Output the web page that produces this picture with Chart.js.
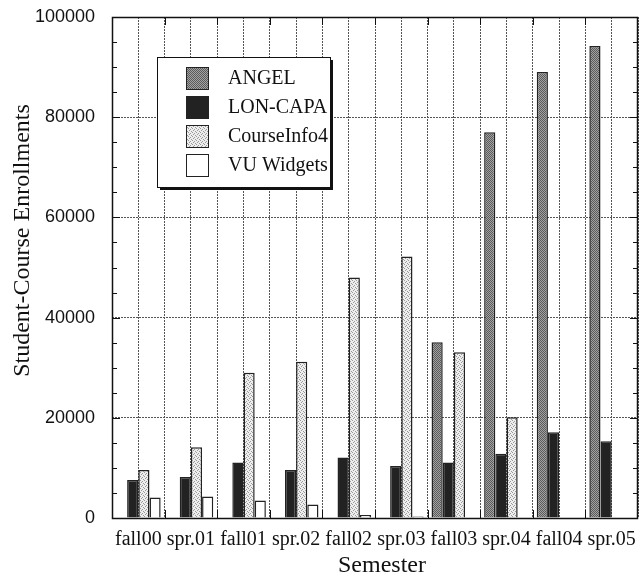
<!DOCTYPE html>
<html>
<head>
<meta charset="utf-8">
<script src="https://cdn.jsdelivr.net/npm/chart.js@4.4.0/dist/chart.umd.min.js"></script>
<style>
  html, body { margin: 0; padding: 0; background: #fff; }
</style>
</head>
<body>
<canvas id="chart" width="639" height="575"></canvas>
<script>
// values, one entry per semester (null = no bar)
const semesters = ['fall00', 'spr.01', 'fall01', 'spr.02', 'fall02', 'spr.03', 'fall03', 'spr.04', 'fall04', 'spr.05'];
const angel = [null, null, null, null, null, null, 35100, 77000, 89000, 94200];
const lonCapa = [7600, 8200, 11100, 9600, 12100, 10400, 11100, 12800, 17100, 15300];
const courseInfo4 = [9600, 14100, 29000, 31200, 48000, 52200, 33100, 20100, null, null];
const vuWidgets = [4100, 4300, 3500, 2700, 600, 300, null, null, null, null];
const yLabels = [0, 20000, 40000, 60000, 80000, 100000];
const xTitle = 'Semester';
const yTitle = 'Student-Course Enrollments';

const SERIF = "'Liberation Serif', 'Times New Roman', serif";
const SANS = "'Liberation Sans', Arial, sans-serif";

// small stipple patterns like the printed original
function stipple(base, dot, cells) {
  const c = document.createElement('canvas');
  c.width = 4; c.height = 4;
  const g = c.getContext('2d');
  g.fillStyle = base;
  g.fillRect(0, 0, 4, 4);
  g.fillStyle = dot;
  cells.forEach(([x, y]) => g.fillRect(x, y, 1, 1));
  return g.createPattern(c, 'repeat');
}

const angelFill = stipple('#a2a2a2', '#5a5a5a', [[0, 0], [2, 0], [1, 1], [3, 1], [0, 2], [2, 2], [1, 3], [3, 3]]);
const courseFill = stipple('#eeeeee', '#9a9a9a', [[0, 0], [2, 1], [1, 2], [3, 3]]);

const frameAndTicks = {
  id: 'frameAndTicks',
  afterDatasetsDraw(chart) {
    const { ctx, chartArea: a } = chart;
    const y = chart.scales.y;
    const x = chart.scales.x;
    ctx.save();
    ctx.strokeStyle = '#111';
    ctx.lineWidth = 1;
    ctx.beginPath();
    for (let v = 0; v <= 100000; v += 5000) {
      const py = Math.round(y.getPixelForValue(v)) + 0.5;
      const len = v % 20000 === 0 ? 8 : 5;
      ctx.moveTo(a.left, py); ctx.lineTo(a.left + len, py);
      ctx.moveTo(a.right, py); ctx.lineTo(a.right - len, py);
    }
    for (let i = 1; i < semesters.length; i++) {
      const px = Math.round((x.getPixelForValue(i - 1) + x.getPixelForValue(i)) / 2) + 0.5;
      ctx.moveTo(px, a.bottom); ctx.lineTo(px, a.bottom - 8);
      ctx.moveTo(px, a.top); ctx.lineTo(px, a.top + 8);
    }
    ctx.stroke();
    ctx.lineWidth = 1.5;
    ctx.strokeRect(a.left + 0.5, a.top + 0.5, a.right - a.left - 1, a.bottom - a.top);
    ctx.restore();
  }
};

// axis titles sit a little off-centre in the original, so draw them here
const axisTitles = {
  id: 'axisTitles',
  afterDraw(chart) {
    const { ctx, chartArea: a } = chart;
    ctx.save();
    ctx.fillStyle = '#111';
    ctx.font = '24px ' + SERIF;
    ctx.textAlign = 'center';
    ctx.textBaseline = 'alphabetic';
    ctx.fillText(xTitle, (a.left + a.right) / 2 + 7, chart.height - 3);
    ctx.translate(29, (a.top + a.bottom) / 2 - 27);
    ctx.rotate(-Math.PI / 2);
    ctx.fillText(yTitle, 0, 0);
    ctx.restore();
  }
};

const legendBox = {
  id: 'legendBox',
  afterDraw(chart) {
    const { ctx, chartArea: a } = chart;
    const bx = a.left + 45, by = a.top + 40, bw = 173, bh = 130;
    ctx.save();
    ctx.fillStyle = '#111';
    ctx.fillRect(bx + 3, by + 3, bw, bh);
    ctx.fillStyle = '#fff';
    ctx.fillRect(bx, by, bw, bh);
    ctx.strokeStyle = '#111';
    ctx.lineWidth = 1;
    ctx.strokeRect(bx + 0.5, by + 0.5, bw, bh);
    ctx.font = '20px ' + SERIF;
    ctx.textBaseline = 'middle';
    chart.data.datasets.forEach((ds, i) => {
      const sy = by + 10 + i * 29;
      ctx.fillStyle = ds.backgroundColor;
      ctx.fillRect(bx + 29, sy, 22, 22);
      ctx.strokeStyle = '#222';
      ctx.strokeRect(bx + 29.5, sy + 0.5, 22, 22);
      ctx.fillStyle = '#111';
      ctx.fillText(ds.label, bx + 71, sy + 12);
    });
    ctx.restore();
  }
};

const gridStyle = {
  color: '#555',
  lineWidth: 1,
  drawTicks: false
};

new Chart(document.getElementById('chart'), {
  type: 'bar',
  data: {
    labels: semesters,
    datasets: [
      { label: 'ANGEL', data: angel, backgroundColor: angelFill },
      { label: 'LON-CAPA', data: lonCapa, backgroundColor: '#222' },
      { label: 'CourseInfo4', data: courseInfo4, backgroundColor: courseFill },
      { label: 'VU Widgets', data: vuWidgets, backgroundColor: '#fff' }
    ].map(ds => Object.assign(ds, {
      borderColor: '#222',
      borderWidth: 1.5,
      borderSkipped: 'start',
      categoryPercentage: 0.85,
      barPercentage: 1
    }))
  },
  options: {
    responsive: false,
    animation: false,
    devicePixelRatio: 1,
    layout: { padding: { top: 17, right: 1, left: 0, bottom: 0 } },
    plugins: {
      legend: { display: false },
      tooltip: { enabled: false }
    },
    scales: {
      x: {
        grid: Object.assign({ offset: true }, gridStyle),
        border: { display: false, dash: [2, 1] },
        ticks: {
          padding: 10,
          color: '#111',
          font: { family: SERIF, size: 20 },
          maxRotation: 0,
          autoSkip: false
        },
        afterFit(scale) {
          scale.height = 57;
          scale.paddingLeft = 0;
          scale.paddingRight = 0;
        }
      },
      x2: {
        type: 'category',
        labels: semesters,
        position: 'bottom',
        offset: true,
        grid: Object.assign({ offset: false }, gridStyle),
        border: { display: false, dash: [2, 1] },
        ticks: { display: false },
        afterFit(scale) {
          scale.height = 0;
          scale.paddingLeft = 0;
          scale.paddingRight = 0;
        }
      },
      y: {
        min: 0,
        max: 100000,
        grid: Object.assign({}, gridStyle, {
          color: ctx => (ctx.tick && ctx.tick.value % 20000 === 0) ? '#555' : 'rgba(0,0,0,0)'
        }),
        border: { display: false, dash: [2, 1] },
        ticks: {
          stepSize: 5000,
          autoSkip: false,
          padding: 17,
          color: '#111',
          font: { family: SANS, size: 18 },
          callback: v => yLabels.includes(v) ? String(v) : ''
        },
        afterFit(scale) {
          scale.width = 112;
          scale.paddingTop = 0;
          scale.paddingBottom = 0;
        }
      }
    }
  },
  plugins: [frameAndTicks, axisTitles, legendBox]
});
</script>
</body>
</html>
